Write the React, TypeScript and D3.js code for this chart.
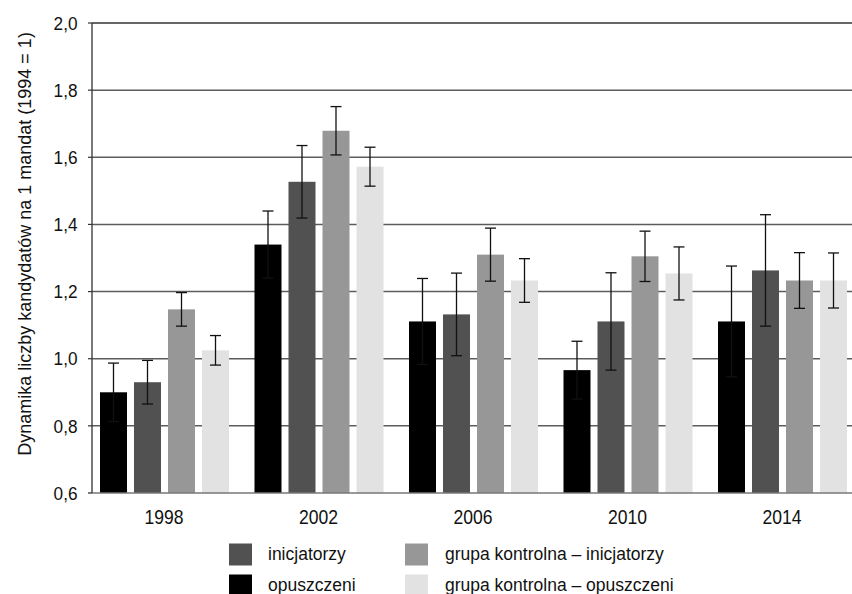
import React from 'react';
import * as d3 from 'd3';

const years = ['1998', '2002', '2006', '2010', '2014'];
const seriesNames = [
  'opuszczeni',
  'inicjatorzy',
  'grupa kontrolna – inicjatorzy',
  'grupa kontrolna – opuszczeni',
];
const seriesColors = ['#000000', '#515151', '#979797', '#e2e2e2'];

// mean values per year, same order as years
const opuszczeni = [0.9, 1.34, 1.111, 0.966, 1.111];
const inicjatorzy = [0.93, 1.527, 1.132, 1.111, 1.263];
const kontrolnaInicjatorzy = [1.147, 1.679, 1.31, 1.305, 1.233];
const kontrolnaOpuszczeni = [1.025, 1.572, 1.233, 1.254, 1.233];

// half-width of error bars
const errOpuszczeni = [0.087, 0.1, 0.128, 0.086, 0.165];
const errInicjatorzy = [0.065, 0.108, 0.123, 0.145, 0.166];
const errKontrolnaInicjatorzy = [0.05, 0.072, 0.079, 0.075, 0.083];
const errKontrolnaOpuszczeni = [0.044, 0.058, 0.065, 0.079, 0.082];

const yTicks = [0.6, 0.8, 1.0, 1.2, 1.4, 1.6, 1.8, 2.0];
const yTitle = 'Dynamika liczby kandydatów na 1 mandat (1994 = 1)';

const values = [opuszczeni, inicjatorzy, kontrolnaInicjatorzy, kontrolnaOpuszczeni];
const errors = [errOpuszczeni, errInicjatorzy, errKontrolnaInicjatorzy, errKontrolnaOpuszczeni];

// legend layout: [series index, column, row]
const legendItems = [
  [1, 0, 0],
  [2, 1, 0],
  [0, 0, 1],
  [3, 1, 1],
];

const W = 852;
const H = 594;
const font = '"Liberation Sans", Arial, sans-serif';

const plot = { left: 92, top: 23, bottom: 493, right: 852 };

export default function App() {
  const x = d3.scaleBand<string>()
    .domain(years)
    .range([87.25, 859.75])
    .paddingInner(0.165)
    .paddingOuter(0.0825);

  const xi = d3.scaleBand<string>()
    .domain(seriesNames)
    .range([0, x.bandwidth()])
    .paddingInner(0.206)
    .paddingOuter(0);

  const y = d3.scaleLinear().domain([0.6, 2.0]).range([plot.bottom, plot.top]);
  const fmt = (v: number) => d3.format('.1f')(v).replace('.', ',');

  const capHalf = 5.5;

  return (
    <svg width={W} height={H} style={{ position: 'absolute', left: 0, top: 0, background: '#fff' }}
      fontFamily={font}>
      {/* grid lines */}
      {yTicks.slice(1).map(t => (
        <line key={'g' + t} x1={plot.left} x2={plot.right} y1={y(t)} y2={y(t)}
          stroke={t === 2.0 ? '#333' : '#5c5c5c'} strokeWidth={1.5} />
      ))}
      {/* y ticks + labels */}
      {yTicks.map(t => (
        <g key={'t' + t}>
          <line x1={88} x2={plot.left} y1={y(t)} y2={y(t)} stroke="#333" strokeWidth={1.2} />
          <g transform={`translate(77.5,${y(t)}) scale(0.93,1)`}>
            <text dy="0.36em" textAnchor="end" fontSize={18.5} fill="#111">{fmt(t)}</text>
          </g>
        </g>
      ))}
      {/* bars */}
      {years.map((yr, i) => (
        <g key={yr} transform={`translate(${x(yr)},0)`}>
          {seriesNames.map((s, j) => (
            <rect key={s} x={xi(s)} width={xi.bandwidth()} y={y(values[j][i])}
              height={plot.bottom - y(values[j][i])} fill={seriesColors[j]} />
          ))}
        </g>
      ))}
      {/* error bars */}
      {years.map((yr, i) => (
        <g key={'e' + yr} transform={`translate(${x(yr)},0)`}>
          {seriesNames.map((s, j) => {
            const cx = (xi(s) as number) + xi.bandwidth() / 2;
            const hi = y(values[j][i] + errors[j][i]);
            const lo = y(values[j][i] - errors[j][i]);
            return (
              <g key={s} stroke="#111" strokeWidth={1.3}>
                <line x1={cx} x2={cx} y1={hi} y2={lo} />
                <line x1={cx - capHalf} x2={cx + capHalf} y1={hi} y2={hi} />
                <line x1={cx - capHalf} x2={cx + capHalf} y1={lo} y2={lo} />
              </g>
            );
          })}
        </g>
      ))}
      {/* axes */}
      <line x1={88} x2={plot.right} y1={plot.bottom} y2={plot.bottom} stroke="#777" strokeWidth={1.5} />
      <line x1={plot.left} x2={plot.left} y1={plot.top} y2={plot.bottom} stroke="#333" strokeWidth={1.3} />
      {years.map(yr => (
        <g key={'l' + yr} transform={`translate(${(x(yr) as number) + x.bandwidth() / 2 - 0.5},524) scale(0.9,1)`}>
          <text textAnchor="middle" fontSize={19.5} fill="#111">{yr}</text>
        </g>
      ))}
      {/* y title */}
      <text transform={`translate(31,${(plot.top + 465) / 2}) rotate(-90)`} textAnchor="middle"
        fontSize={18} fill="#111">{yTitle}</text>
      {/* legend */}
      {legendItems.map(([si, col, row]) => {
        const lx = col === 0 ? 229 : 405;
        const ly = 543.5 + row * 31;
        return (
          <g key={'lg' + si}>
            <rect x={lx} y={ly} width={23} height={22} fill={seriesColors[si]} />
            <text x={lx + (col === 0 ? 39 : 40)} y={ly + 16.2} fontSize={17.5} fill="#111">{seriesNames[si]}</text>
          </g>
        );
      })}
    </svg>
  );
}
